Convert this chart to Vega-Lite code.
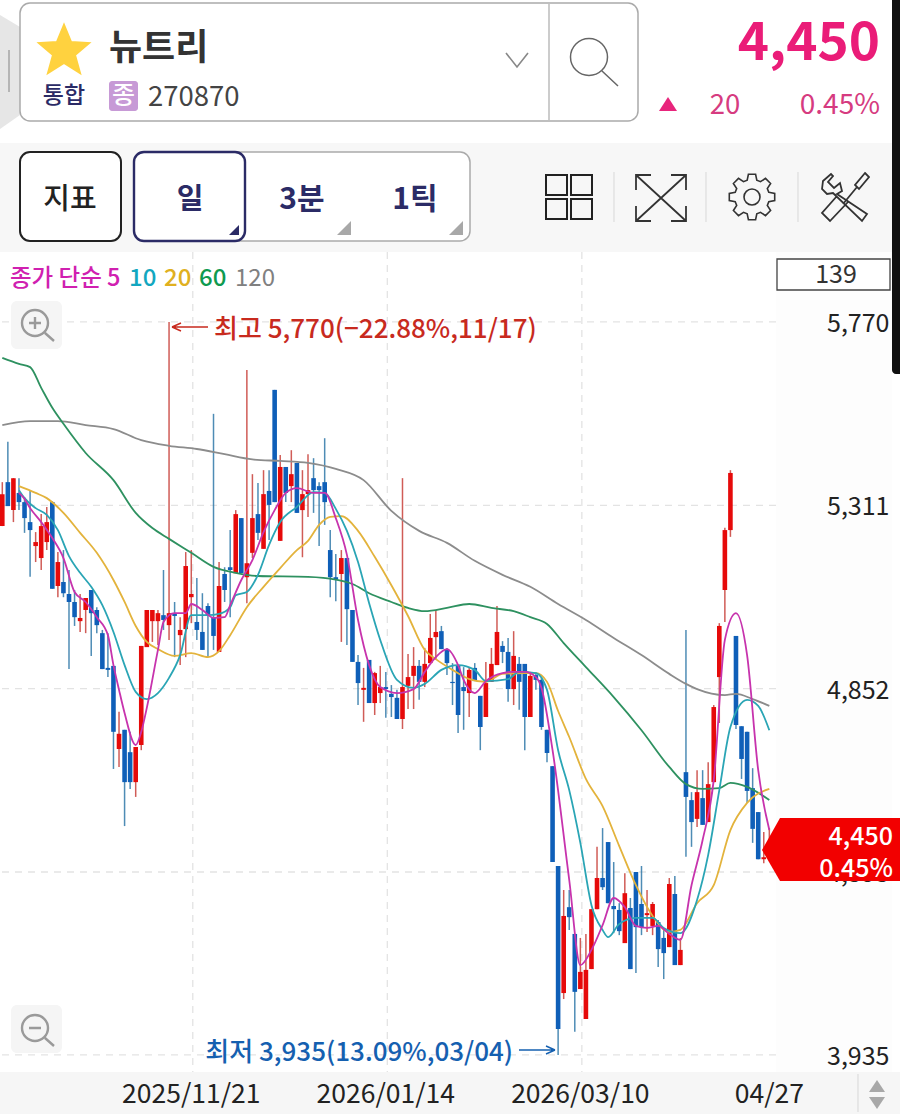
{"$schema":"https://vega.github.io/schema/vega-lite/v6.json","width":900,"height":1119,"padding":0,"autosize":{"type":"fit","contains":"padding"},"background":"#ffffff","config":{"view":{"stroke":null},"axis":{"disable":true},"scale":{"continuousPadding":0},"line":{"strokeJoin":"round"},"text":{"font":"Noto Sans CJK KR"}},
"datasets":{
"candles":[
{"i":0,"o":5259,"h":5369,"l":5259,"c":5339},{"i":1,"o":5369,"h":5470,"l":5309,"c":5309},{"i":2,"o":5299,"h":5379,"l":5269,"c":5379},{"i":3,"o":5342,"h":5379,"l":5299,"c":5319},{"i":4,"o":5319,"h":5332,"l":5242,"c":5279},{"i":5,"o":5269,"h":5347,"l":5132,"c":5249},{"i":6,"o":5209,"h":5244,"l":5169,"c":5219},{"i":7,"o":5179,"h":5289,"l":5149,"c":5259},{"i":8,"o":5219,"h":5307,"l":5199,"c":5269},{"i":9,"o":5319,"h":5321,"l":5102,"c":5102},
{"i":10,"o":5109,"h":5194,"l":5081,"c":5169},{"i":11,"o":5119,"h":5199,"l":5081,"c":5091},{"i":12,"o":5089,"h":5149,"l":4901,"c":5069},{"i":13,"o":5069,"h":5099,"l":5009,"c":5031},{"i":14,"o":5021,"h":5089,"l":4994,"c":5029},{"i":15,"o":5049,"h":5079,"l":4991,"c":5079},{"i":16,"o":5099,"h":5099,"l":4934,"c":5041},{"i":17,"o":5049,"h":5056,"l":4991,"c":5011},{"i":18,"o":4991,"h":4999,"l":4901,"c":4901},{"i":19,"o":4904,"h":4991,"l":4881,"c":4899},
{"i":20,"o":4909,"h":4909,"l":4651,"c":4744},{"i":21,"o":4701,"h":4794,"l":4656,"c":4739},{"i":22,"o":4749,"h":4749,"l":4508,"c":4618},{"i":23,"o":4693,"h":4744,"l":4601,"c":4618},{"i":24,"o":4618,"h":4706,"l":4581,"c":4706},{"i":25,"o":4711,"h":4959,"l":4698,"c":4959},{"i":26,"o":4956,"h":5049,"l":4956,"c":5049},{"i":27,"o":5021,"h":5049,"l":4969,"c":5049},{"i":28,"o":5021,"h":5049,"l":4961,"c":5041},{"i":29,"o":5036,"h":5149,"l":4999,"c":5024},
{"i":30,"o":5011,"h":5770,"l":4974,"c":5041},{"i":31,"o":5041,"h":5069,"l":4931,"c":5034},{"i":32,"o":4986,"h":5031,"l":4911,"c":4999},{"i":33,"o":5001,"h":5194,"l":4931,"c":5159},{"i":34,"o":5081,"h":5199,"l":5016,"c":5089},{"i":35,"o":5019,"h":5129,"l":4974,"c":4999},{"i":36,"o":4994,"h":5091,"l":4949,"c":4949},{"i":37,"o":5059,"h":5066,"l":4931,"c":5036},{"i":38,"o":5029,"h":5540,"l":4949,"c":4984},{"i":39,"o":4944,"h":5169,"l":4944,"c":5109},
{"i":40,"o":5139,"h":5156,"l":5069,"c":5099},{"i":41,"o":5156,"h":5249,"l":5031,"c":5149},{"i":42,"o":5141,"h":5299,"l":5141,"c":5289},{"i":43,"o":5279,"h":5279,"l":5141,"c":5141},{"i":44,"o":5131,"h":5650,"l":5066,"c":5166},{"i":45,"o":5192,"h":5389,"l":5179,"c":5279},{"i":46,"o":5289,"h":5367,"l":5224,"c":5242},{"i":47,"o":5202,"h":5399,"l":5202,"c":5339},{"i":48,"o":5347,"h":5399,"l":5224,"c":5312},{"i":49,"o":5600,"h":5600,"l":5319,"c":5319},
{"i":50,"o":5222,"h":5437,"l":5222,"c":5407},{"i":51,"o":5407,"h":5407,"l":5319,"c":5342},{"i":52,"o":5359,"h":5449,"l":5319,"c":5389},{"i":53,"o":5417,"h":5417,"l":5292,"c":5292},{"i":54,"o":5299,"h":5399,"l":5181,"c":5339},{"i":55,"o":5339,"h":5439,"l":5282,"c":5349},{"i":56,"o":5379,"h":5429,"l":5292,"c":5349},{"i":57,"o":5359,"h":5369,"l":5209,"c":5349},{"i":58,"o":5369,"h":5479,"l":5262,"c":5319},{"i":59,"o":5199,"h":5249,"l":5081,"c":5131},
{"i":60,"o":5131,"h":5189,"l":5071,"c":5126},{"i":61,"o":5139,"h":5199,"l":4969,"c":5179},{"i":62,"o":5179,"h":5179,"l":4961,"c":5051},{"i":63,"o":5049,"h":5049,"l":4919,"c":4919},{"i":64,"o":4919,"h":4936,"l":4811,"c":4866},{"i":65,"o":4849,"h":4904,"l":4769,"c":4854},{"i":66,"o":4924,"h":4924,"l":4816,"c":4816},{"i":67,"o":4816,"h":4894,"l":4786,"c":4891},{"i":68,"o":4841,"h":4909,"l":4816,"c":4856},{"i":69,"o":4856,"h":4894,"l":4779,"c":4851},
{"i":70,"o":4839,"h":4861,"l":4781,"c":4831},{"i":71,"o":4829,"h":4849,"l":4776,"c":4776},{"i":72,"o":4776,"h":5379,"l":4751,"c":4856},{"i":73,"o":4859,"h":4939,"l":4801,"c":4881},{"i":74,"o":4884,"h":4956,"l":4801,"c":4909},{"i":75,"o":4909,"h":4924,"l":4824,"c":4869},{"i":76,"o":4869,"h":4954,"l":4856,"c":4914},{"i":77,"o":4916,"h":5039,"l":4916,"c":4979},{"i":78,"o":4981,"h":5049,"l":4924,"c":4994},{"i":79,"o":4996,"h":5009,"l":4951,"c":4951},
{"i":80,"o":4949,"h":4954,"l":4886,"c":4916},{"i":81,"o":4869,"h":4916,"l":4811,"c":4866},{"i":82,"o":4909,"h":4909,"l":4741,"c":4786},{"i":83,"o":4856,"h":4906,"l":4749,"c":4846},{"i":84,"o":4841,"h":4904,"l":4781,"c":4899},{"i":85,"o":4904,"h":4916,"l":4871,"c":4871},{"i":86,"o":4834,"h":4834,"l":4698,"c":4756},{"i":87,"o":4781,"h":4919,"l":4781,"c":4866},{"i":88,"o":4869,"h":4954,"l":4869,"c":4914},{"i":89,"o":4911,"h":5059,"l":4911,"c":4994},
{"i":90,"o":4959,"h":4971,"l":4916,"c":4944},{"i":91,"o":4944,"h":4979,"l":4819,"c":4851},{"i":92,"o":4851,"h":4996,"l":4811,"c":4934},{"i":93,"o":4914,"h":4931,"l":4799,"c":4869},{"i":94,"o":4914,"h":4914,"l":4698,"c":4781},{"i":95,"o":4781,"h":4894,"l":4781,"c":4884},{"i":96,"o":4886,"h":4894,"l":4849,"c":4874},{"i":97,"o":4874,"h":4880,"l":4749,"c":4756},{"i":98,"o":4749,"h":4749,"l":4668,"c":4691},{"i":99,"o":4658,"h":4658,"l":4418,"c":4418},
{"i":100,"o":4408,"h":4408,"l":3935,"c":4000},{"i":101,"o":4090,"h":4348,"l":4075,"c":4283},{"i":102,"o":4305,"h":4348,"l":4248,"c":4280},{"i":103,"o":4238,"h":4238,"l":3993,"c":4093},{"i":104,"o":4100,"h":4228,"l":4100,"c":4143},{"i":105,"o":4025,"h":4238,"l":4025,"c":4148},{"i":106,"o":4150,"h":4300,"l":4150,"c":4300},{"i":107,"o":4300,"h":4456,"l":4300,"c":4378},{"i":108,"o":4378,"h":4503,"l":4348,"c":4355},{"i":109,"o":4468,"h":4468,"l":4315,"c":4315},
{"i":110,"o":4308,"h":4418,"l":4240,"c":4300},{"i":111,"o":4298,"h":4315,"l":4235,"c":4245},{"i":112,"o":4215,"h":4390,"l":4215,"c":4340},{"i":113,"o":4303,"h":4328,"l":4150,"c":4150},{"i":114,"o":4393,"h":4393,"l":4140,"c":4255},{"i":115,"o":4313,"h":4408,"l":4235,"c":4255},{"i":116,"o":4285,"h":4348,"l":4243,"c":4290},{"i":117,"o":4258,"h":4318,"l":4235,"c":4313},{"i":118,"o":4268,"h":4273,"l":4155,"c":4200},{"i":119,"o":4228,"h":4253,"l":4125,"c":4190},
{"i":120,"o":4205,"h":4378,"l":4205,"c":4363},{"i":121,"o":4338,"h":4383,"l":4160,"c":4160},{"i":122,"o":4160,"h":4228,"l":4160,"c":4198},{"i":123,"o":4643,"h":4999,"l":4431,"c":4581},{"i":124,"o":4573,"h":4593,"l":4456,"c":4518},{"i":125,"o":4526,"h":4648,"l":4506,"c":4593},{"i":126,"o":4578,"h":4648,"l":4511,"c":4511},{"i":127,"o":4518,"h":4668,"l":4518,"c":4613},{"i":128,"o":4618,"h":4811,"l":4618,"c":4806},{"i":129,"o":4881,"h":5016,"l":4766,"c":5009},
{"i":130,"o":5099,"h":5255,"l":5019,"c":5249},{"i":131,"o":5249,"h":5399,"l":5232,"c":5392},{"i":132,"o":4984,"h":4984,"l":4751,"c":4761},{"i":133,"o":4758,"h":4758,"l":4626,"c":4676},{"i":134,"o":4744,"h":4744,"l":4566,"c":4596},{"i":135,"o":4603,"h":4653,"l":4466,"c":4501},{"i":136,"o":4543,"h":4543,"l":4425,"c":4425},{"i":137,"o":4425,"h":4493,"l":4415,"c":4430},{"i":138,"o":4430,"h":4503,"l":4425,"c":4450}],
"ma120":[{"i":0,"p":5512},{"i":5,"p":5522},{"i":10,"p":5522},{"i":15,"p":5512},{"i":20,"p":5502},{"i":25,"p":5474},{"i":30,"p":5460},{"i":35,"p":5452},{"i":40,"p":5439},{"i":45,"p":5426},{"i":50,"p":5422},{"i":55,"p":5417},{"i":60,"p":5402},{"i":65,"p":5374},{"i":70,"p":5297},{"i":75,"p":5247},{"i":80,"p":5217},{"i":85,"p":5172},{"i":90,"p":5137},{"i":95,"p":5107},{"i":100,"p":5064},{"i":105,"p":5024},{"i":110,"p":4979},{"i":115,"p":4936},{"i":120,"p":4889},{"i":123,"p":4864},{"i":125,"p":4851},{"i":130,"p":4836},{"i":132,"p":4839},{"i":135,"p":4826},{"i":138,"p":4809}],
"ma60":[{"i":0,"p":5680},{"i":3,"p":5665},{"i":5,"p":5657},{"i":7,"p":5605},{"i":9,"p":5555},{"i":11,"p":5515},{"i":15,"p":5442},{"i":20,"p":5374},{"i":24,"p":5292},{"i":27,"p":5254},{"i":30,"p":5227},{"i":34,"p":5192},{"i":38,"p":5157},{"i":42,"p":5142},{"i":46,"p":5134},{"i":55,"p":5132},{"i":60,"p":5125},{"i":63,"p":5114},{"i":66,"p":5091},{"i":70,"p":5069},{"i":73,"p":5054},{"i":76,"p":5046},{"i":80,"p":5054},{"i":84,"p":5064},{"i":88,"p":5054},{"i":92,"p":5046},{"i":95,"p":5031},{"i":98,"p":5014},{"i":101,"p":4966},{"i":105,"p":4906},{"i":110,"p":4831},{"i":115,"p":4748},{"i":120,"p":4656},{"i":123,"p":4613},{"i":126,"p":4601},{"i":129,"p":4603},{"i":131,"p":4616},{"i":134,"p":4606},{"i":138,"p":4573}],
"ma20":[{"i":3,"p":5359},{"i":6,"p":5342},{"i":8,"p":5329},{"i":11,"p":5292},{"i":14,"p":5242},{"i":17,"p":5192},{"i":20,"p":5124},{"i":22,"p":5069},{"i":24,"p":5009},{"i":26,"p":4969},{"i":28,"p":4951},{"i":31,"p":4934},{"i":34,"p":4941},{"i":37,"p":4931},{"i":39,"p":4946},{"i":41,"p":4986},{"i":44,"p":5056},{"i":47,"p":5107},{"i":50,"p":5154},{"i":53,"p":5199},{"i":55,"p":5222},{"i":57,"p":5262},{"i":59,"p":5282},{"i":61,"p":5284},{"i":64,"p":5247},{"i":67,"p":5182},{"i":70,"p":5111},{"i":73,"p":5034},{"i":76,"p":4949},{"i":78,"p":4926},{"i":81,"p":4899},{"i":84,"p":4876},{"i":87,"p":4869},{"i":90,"p":4889},{"i":94,"p":4891},{"i":96,"p":4891},{"i":98,"p":4869},{"i":100,"p":4796},{"i":102,"p":4731},{"i":105,"p":4626},{"i":108,"p":4558},{"i":111,"p":4458},{"i":114,"p":4360},{"i":117,"p":4283},{"i":120,"p":4243},{"i":122,"p":4248},{"i":125,"p":4315},{"i":128,"p":4360},{"i":131,"p":4498},{"i":134,"p":4566},{"i":138,"p":4601}],
"ma10":[{"i":3,"p":5349},{"i":4,"p":5329},{"i":6,"p":5304},{"i":8,"p":5287},{"i":10,"p":5249},{"i":12,"p":5184},{"i":14,"p":5142},{"i":16,"p":5107},{"i":18,"p":5061},{"i":20,"p":4994},{"i":22,"p":4911},{"i":24,"p":4844},{"i":26,"p":4826},{"i":28,"p":4841},{"i":30,"p":4879},{"i":32,"p":4936},{"i":34,"p":5036},{"i":37,"p":5036},{"i":39,"p":5039},{"i":41,"p":5056},{"i":42,"p":5086},{"i":44,"p":5094},{"i":46,"p":5137},{"i":48,"p":5212},{"i":50,"p":5269},{"i":53,"p":5307},{"i":56,"p":5344},{"i":58,"p":5342},{"i":60,"p":5302},{"i":62,"p":5247},{"i":64,"p":5169},{"i":66,"p":5066},{"i":68,"p":4974},{"i":71,"p":4874},{"i":74,"p":4854},{"i":76,"p":4864},{"i":79,"p":4899},{"i":82,"p":4911},{"i":85,"p":4899},{"i":87,"p":4871},{"i":91,"p":4876},{"i":93,"p":4894},{"i":96,"p":4891},{"i":98,"p":4849},{"i":100,"p":4698},{"i":102,"p":4598},{"i":104,"p":4466},{"i":106,"p":4310},{"i":108,"p":4248},{"i":109,"p":4230},{"i":111,"p":4263},{"i":114,"p":4278},{"i":117,"p":4278},{"i":119,"p":4253},{"i":122,"p":4240},{"i":125,"p":4323},{"i":127,"p":4436},{"i":129,"p":4598},{"i":131,"p":4756},{"i":134,"p":4824},{"i":136,"p":4809},{"i":138,"p":4748}],
"ma5":[{"i":3,"p":5342},{"i":4,"p":5327},{"i":5,"p":5304},{"i":7,"p":5269},{"i":9,"p":5229},{"i":11,"p":5179},{"i":13,"p":5094},{"i":15,"p":5069},{"i":17,"p":5031},{"i":19,"p":4986},{"i":20,"p":4911},{"i":21,"p":4849},{"i":22,"p":4791},{"i":24,"p":4711},{"i":25,"p":4744},{"i":26,"p":4804},{"i":28,"p":4949},{"i":29,"p":5019},{"i":31,"p":5041},{"i":33,"p":5041},{"i":34,"p":5064},{"i":36,"p":5049},{"i":38,"p":5029},{"i":40,"p":5031},{"i":41,"p":5061},{"i":43,"p":5124},{"i":45,"p":5174},{"i":47,"p":5244},{"i":49,"p":5299},{"i":51,"p":5342},{"i":53,"p":5354},{"i":56,"p":5342},{"i":58,"p":5342},{"i":60,"p":5279},{"i":62,"p":5187},{"i":64,"p":5024},{"i":66,"p":4911},{"i":68,"p":4856},{"i":71,"p":4841},{"i":74,"p":4851},{"i":76,"p":4894},{"i":78,"p":4931},{"i":80,"p":4951},{"i":82,"p":4911},{"i":83,"p":4874},{"i":85,"p":4841},{"i":87,"p":4871},{"i":90,"p":4891},{"i":92,"p":4894},{"i":94,"p":4894},{"i":96,"p":4881},{"i":97,"p":4854},{"i":99,"p":4698},{"i":102,"p":4373},{"i":104,"p":4160},{"i":106,"p":4198},{"i":108,"p":4260},{"i":110,"p":4328},{"i":112,"p":4305},{"i":114,"p":4258},{"i":116,"p":4253},{"i":118,"p":4258},{"i":120,"p":4238},{"i":122,"p":4223},{"i":124,"p":4360},{"i":126,"p":4473},{"i":128,"p":4623},{"i":130,"p":4974},{"i":132,"p":5041},{"i":134,"p":4936},{"i":136,"p":4648},{"i":138,"p":4498}],
"prices":[{"p":5770},{"p":5311},{"p":4852},{"p":4393},{"p":3935}],
"dates":[{"i":34,"d":"2025/11/21"},{"i":69,"d":"2026/01/14"},{"i":104,"d":"2026/03/10"},{"i":138,"d":"04/27"}]
},
"layer":[
{"data":{"values":[{}]},"mark":{"type":"rect","fill":"#f7f7f7"},"encoding":{"x":{"value":0},"x2":{"value":900},"y":{"value":143},"y2":{"value":252}}},
{"data":{"values":[{}]},"mark":{"type":"rect","fill":"#f6f6f6"},"encoding":{"x":{"value":0},"x2":{"value":900},"y":{"value":1072},"y2":{"value":1114}}},
{"data":{"values":[{}]},"mark":{"type":"rect","fill":"#fdfdfd"},"encoding":{"x":{"value":776},"x2":{"value":892},"y":{"value":252},"y2":{"value":1072}}},
{"data":{"name":"dates"},"transform":[{"filter":"datum.i<138"}],"mark":{"type":"rule","stroke":"#e3e3e3","strokeWidth":1.3,"strokeDash":[7,6],"xOffset":1.5},"encoding":{"x":{"field":"i","type":"quantitative","scale":{"domain":[-0.414,161.51],"nice":false,"zero":false}},"y":{"value":252},"y2":{"value":1072}}},
{"data":{"name":"prices"},"mark":{"type":"rule","stroke":"#e3e3e3","strokeWidth":1.3,"strokeDash":[7,6]},"encoding":{"y":{"field":"p","type":"quantitative","scale":{"domain":[3774.7,6576],"nice":false,"zero":false}},"x":{"value":2},"x2":{"value":776}}},
{"data":{"name":"candles"},"mark":{"type":"rule","strokeWidth":1.5,"opacity":0.85},"encoding":{"x":{"field":"i","type":"quantitative","scale":{"domain":[-0.414,161.51],"nice":false,"zero":false}},"y":{"field":"h","type":"quantitative","scale":{"domain":[3774.7,6576],"nice":false,"zero":false}},"y2":{"field":"l"},"color":{"condition":{"test":"datum.c >= datum.o","value":"#c8403a"},"value":"#2f78a8"}}},
{"data":{"name":"candles"},"mark":{"type":"bar","size":4.6},"encoding":{"x":{"field":"i","type":"quantitative","scale":{"domain":[-0.414,161.51],"nice":false,"zero":false,"padding":0}},"y":{"field":"o","type":"quantitative","scale":{"domain":[3774.7,6576],"nice":false,"zero":false}},"y2":{"field":"c"},"color":{"condition":{"test":"datum.c >= datum.o","value":"#e60a0a"},"value":"#0f5fb8"}}},
{"data":{"name":"ma120"},"mark":{"type":"line","stroke":"#8c8c8c","strokeWidth":1.8,"strokeJoin":"round","interpolate":"monotone"},"encoding":{"x":{"field":"i","type":"quantitative","scale":{"domain":[-0.414,161.51],"nice":false,"zero":false}},"y":{"field":"p","type":"quantitative","scale":{"domain":[3774.7,6576],"nice":false,"zero":false}}}},
{"data":{"name":"ma60"},"mark":{"type":"line","stroke":"#2e9160","strokeWidth":1.8,"strokeJoin":"round","interpolate":"monotone"},"encoding":{"x":{"field":"i","type":"quantitative","scale":{"domain":[-0.414,161.51],"nice":false,"zero":false}},"y":{"field":"p","type":"quantitative","scale":{"domain":[3774.7,6576],"nice":false,"zero":false}}}},
{"data":{"name":"ma20"},"mark":{"type":"line","stroke":"#e3b33c","strokeWidth":1.8,"strokeJoin":"round","interpolate":"monotone"},"encoding":{"x":{"field":"i","type":"quantitative","scale":{"domain":[-0.414,161.51],"nice":false,"zero":false}},"y":{"field":"p","type":"quantitative","scale":{"domain":[3774.7,6576],"nice":false,"zero":false}}}},
{"data":{"name":"ma10"},"mark":{"type":"line","stroke":"#2aa5b5","strokeWidth":1.8,"strokeJoin":"round","interpolate":"monotone"},"encoding":{"x":{"field":"i","type":"quantitative","scale":{"domain":[-0.414,161.51],"nice":false,"zero":false}},"y":{"field":"p","type":"quantitative","scale":{"domain":[3774.7,6576],"nice":false,"zero":false}}}},
{"data":{"name":"ma5"},"mark":{"type":"line","stroke":"#c733ad","strokeWidth":1.8,"strokeJoin":"round","interpolate":"monotone"},"encoding":{"x":{"field":"i","type":"quantitative","scale":{"domain":[-0.414,161.51],"nice":false,"zero":false}},"y":{"field":"p","type":"quantitative","scale":{"domain":[3774.7,6576],"nice":false,"zero":false}}}},
{"data":{"name":"prices"},"mark":{"type":"text","align":"left","baseline":"middle","fontSize":25,"fill":"#222222","dy":2},"encoding":{"x":{"value":827},"y":{"field":"p","type":"quantitative","scale":{"domain":[3774.7,6576],"nice":false,"zero":false}},"text":{"field":"p","type":"quantitative","format":","}}},
{"data":{"name":"dates"},"mark":{"type":"text","align":"center","baseline":"middle","fontSize":26.5,"fill":"#222222"},"encoding":{"x":{"field":"i","type":"quantitative","scale":{"domain":[-0.414,161.51],"nice":false,"zero":false}},"y":{"value":1095},"text":{"field":"d"}}},
{"data":{"values":[{"i":30,"p":5770,"t":"최고 5,770(−22.88%,11/17)"}]},"mark":{"type":"text","align":"left","baseline":"middle","fontSize":26,"fontWeight":500,"fill":"#c82a1e","dx":45,"dy":8},"encoding":{"x":{"field":"i","type":"quantitative","scale":{"domain":[-0.414,161.51],"nice":false,"zero":false}},"y":{"field":"p","type":"quantitative","scale":{"domain":[3774.7,6576],"nice":false,"zero":false}},"text":{"field":"t"}}},
{"data":{"values":[{"i":100,"p":3935,"t":"최저 3,935(13.09%,03/04)"}]},"mark":{"type":"text","align":"right","baseline":"middle","fontSize":26,"fontWeight":500,"fill":"#1560b0","dx":-45,"dy":-2},"encoding":{"x":{"field":"i","type":"quantitative","scale":{"domain":[-0.414,161.51],"nice":false,"zero":false}},"y":{"field":"p","type":"quantitative","scale":{"domain":[3774.7,6576],"nice":false,"zero":false}},"text":{"field":"t"}}},
{"data":{"values":[{}]},"mark":{"type":"point","size":4,"filled":false,"stroke":"#c82a1e","strokeWidth":1.4,"opacity":1,"shape":"M-18,0H18M-18,0L-9,-4M-18,0L-9,4"},"encoding":{"x":{"value":190},"y":{"value":327}}},
{"data":{"values":[{}]},"mark":{"type":"point","size":4,"filled":false,"stroke":"#1560b0","strokeWidth":1.4,"opacity":1,"shape":"M-18,0H18M18,0L9,-4M18,0L9,4"},"encoding":{"x":{"value":537},"y":{"value":1050}}},
{"data":{"values":[{}]},"mark":{"type":"point","size":4,"filled":true,"fill":"#f20000","strokeWidth":0,"opacity":1,"shape":"M-68,0L-50,-32H70V31H-50Z"},"encoding":{"x":{"value":830},"y":{"value":850}}},
{"data":{"values":[{"t":"4,450"}]},"mark":{"type":"text","align":"right","baseline":"middle","fontSize":25,"fontWeight":500,"fill":"#ffffff"},"encoding":{"x":{"value":893},"y":{"value":837},"text":{"field":"t"}}},
{"data":{"values":[{"t":"0.45%"}]},"mark":{"type":"text","align":"right","baseline":"middle","fontSize":25,"fontWeight":500,"fill":"#ffffff"},"encoding":{"x":{"value":893},"y":{"value":869},"text":{"field":"t"}}},
{"data":{"values":[{}]},"mark":{"type":"rect","fill":"#111111","cornerRadiusBottomLeft":5},"encoding":{"x":{"value":892},"x2":{"value":900},"y":{"value":0},"y2":{"value":374}}},
{"data":{"values":[{}]},"mark":{"type":"point","size":4,"filled":true,"fill":"#e6e6e6","strokeWidth":0,"opacity":1,"shape":"M-20,-50L0,-38V50L-20,64Z"},"encoding":{"x":{"value":20},"y":{"value":65}}},
{"data":{"values":[{}]},"mark":{"type":"rule","stroke":"#b5b5b5","strokeWidth":2},"encoding":{"x":{"value":9},"y":{"value":50},"y2":{"value":92}}},
{"data":{"values":[{}]},"mark":{"type":"rect","fill":"#ffffff","stroke":"#aaaaaa","strokeWidth":1.5,"cornerRadius":10},"encoding":{"x":{"value":20},"x2":{"value":638},"y":{"value":3},"y2":{"value":121}}},
{"data":{"values":[{}]},"mark":{"type":"rule","stroke":"#aaaaaa","strokeWidth":1.2},"encoding":{"x":{"value":549},"y":{"value":4},"y2":{"value":120}}},
{"data":{"values":[{}]},"mark":{"type":"point","size":4,"filled":true,"fill":"#ffd23f","stroke":"#ffd23f","opacity":1,"shape":"M0,-25L7,-8L25,-7L11,5L16,23L0,13L-16,23L-11,5L-25,-7L-7,-8Z"},"encoding":{"x":{"value":64},"y":{"value":50}}},
{"data":{"values":[{"t":"뉴트리"}]},"mark":{"type":"text","align":"left","baseline":"middle","fontSize":36,"fontWeight":"bold","fill":"#333333"},"encoding":{"x":{"value":109},"y":{"value":49},"text":{"field":"t"}}},
{"data":{"values":[{"t":"통합"}]},"mark":{"type":"text","align":"center","baseline":"middle","fontSize":23,"fontWeight":500,"fill":"#2b2b66"},"encoding":{"x":{"value":64},"y":{"value":96},"text":{"field":"t"}}},
{"data":{"values":[{}]},"mark":{"type":"rect","fill":"#c79ad6","cornerRadius":3},"encoding":{"x":{"value":109},"x2":{"value":138},"y":{"value":81},"y2":{"value":111}}},
{"data":{"values":[{"t":"종"}]},"mark":{"type":"text","align":"center","baseline":"middle","fontSize":25,"fontWeight":500,"fill":"#ffffff"},"encoding":{"x":{"value":123.5},"y":{"value":96},"text":{"field":"t"}}},
{"data":{"values":[{"t":"270870"}]},"mark":{"type":"text","align":"left","baseline":"middle","fontSize":27.5,"fill":"#444444"},"encoding":{"x":{"value":148},"y":{"value":98},"text":{"field":"t"}}},
{"data":{"values":[{}]},"mark":{"type":"point","size":4,"filled":false,"stroke":"#888888","strokeWidth":1.6,"opacity":1,"shape":"M-11,-7L0,7L11,-7"},"encoding":{"x":{"value":517},"y":{"value":60}}},
{"data":{"values":[{}]},"mark":{"type":"point","size":4,"filled":false,"stroke":"#666666","strokeWidth":1.5,"opacity":1,"shape":"M18.5,0A18.5,18.5,0,1,1,-18.5,0A18.5,18.5,0,1,1,18.5,0M13,14L29,29"},"encoding":{"x":{"value":589},"y":{"value":57}}},
{"data":{"values":[{"t":"4,450"}]},"mark":{"type":"text","align":"right","baseline":"middle","fontSize":53,"fontWeight":"bold","fill":"#ea1c78"},"encoding":{"x":{"value":880},"y":{"value":44},"text":{"field":"t"}}},
{"data":{"values":[{}]},"mark":{"type":"point","size":4,"filled":true,"fill":"#e8257c","strokeWidth":0,"opacity":1,"shape":"M-9,7L0,-7L9,7Z"},"encoding":{"x":{"value":668},"y":{"value":104}}},
{"data":{"values":[{"t":"20"}]},"mark":{"type":"text","align":"center","baseline":"middle","fontSize":27.5,"fill":"#d63b80"},"encoding":{"x":{"value":725},"y":{"value":106},"text":{"field":"t"}}},
{"data":{"values":[{"t":"0.45%"}]},"mark":{"type":"text","align":"right","baseline":"middle","fontSize":28,"fill":"#d63b80"},"encoding":{"x":{"value":880},"y":{"value":106},"text":{"field":"t"}}},
{"data":{"values":[{}]},"mark":{"type":"rect","fill":"#ffffff","stroke":"#222222","strokeWidth":2,"cornerRadius":10},"encoding":{"x":{"value":20},"x2":{"value":121},"y":{"value":152},"y2":{"value":241}}},
{"data":{"values":[{"t":"지표"}]},"mark":{"type":"text","align":"center","baseline":"middle","fontSize":29,"fontWeight":500,"fill":"#222222"},"encoding":{"x":{"value":70},"y":{"value":200},"text":{"field":"t"}}},
{"data":{"values":[{}]},"mark":{"type":"rect","fill":"#ffffff","stroke":"#aaaaaa","strokeWidth":1.5,"cornerRadius":10},"encoding":{"x":{"value":134},"x2":{"value":470},"y":{"value":152},"y2":{"value":241}}},
{"data":{"values":[{}]},"mark":{"type":"rect","fill":"#ffffff","stroke":"#2b2b66","strokeWidth":2.4,"cornerRadius":10},"encoding":{"x":{"value":134},"x2":{"value":245},"y":{"value":152},"y2":{"value":241}}},
{"data":{"values":[{"t":"일"}]},"mark":{"type":"text","align":"center","baseline":"middle","fontSize":29,"fontWeight":"bold","fill":"#2b2b66"},"encoding":{"x":{"value":190},"y":{"value":200},"text":{"field":"t"}}},
{"data":{"values":[{"t":"3분"}]},"mark":{"type":"text","align":"center","baseline":"middle","fontSize":30,"fontWeight":"bold","fill":"#2b2b66"},"encoding":{"x":{"value":302},"y":{"value":200},"text":{"field":"t"}}},
{"data":{"values":[{"t":"1틱"}]},"mark":{"type":"text","align":"center","baseline":"middle","fontSize":30,"fontWeight":"bold","fill":"#2b2b66"},"encoding":{"x":{"value":415},"y":{"value":200},"text":{"field":"t"}}},
{"data":{"values":[{}]},"mark":{"type":"point","size":4,"filled":true,"fill":"#2b2b66","strokeWidth":0,"opacity":1,"shape":"M-5,5L5,-5V5Z"},"encoding":{"x":{"value":234},"y":{"value":230}}},
{"data":{"values":[{}]},"mark":{"type":"point","size":4,"filled":true,"fill":"#a8a8a8","strokeWidth":0,"opacity":1,"shape":"M-7,7L7,-7V7Z"},"encoding":{"x":{"value":344},"y":{"value":228}}},
{"data":{"values":[{}]},"mark":{"type":"point","size":4,"filled":true,"fill":"#a8a8a8","strokeWidth":0,"opacity":1,"shape":"M-7,7L7,-7V7Z"},"encoding":{"x":{"value":456},"y":{"value":228}}},
{"data":{"values":[{}]},"mark":{"type":"point","size":4,"filled":false,"stroke":"#222222","strokeWidth":2,"opacity":1,"shape":"M-23,-22H-2V-2H-23ZM2,-22H23V-2H2ZM-23,2H-2V22H-23ZM2,2H23V22H2Z"},"encoding":{"x":{"value":569},"y":{"value":197}}},
{"data":{"values":[{}]},"mark":{"type":"rule","stroke":"#dddddd","strokeWidth":1.2},"encoding":{"x":{"value":614},"y":{"value":172},"y2":{"value":222}}},
{"data":{"values":[{}]},"mark":{"type":"rule","stroke":"#dddddd","strokeWidth":1.2},"encoding":{"x":{"value":706},"y":{"value":172},"y2":{"value":222}}},
{"data":{"values":[{}]},"mark":{"type":"rule","stroke":"#dddddd","strokeWidth":1.2},"encoding":{"x":{"value":798},"y":{"value":172},"y2":{"value":222}}},
{"data":{"values":[{}]},"mark":{"type":"point","size":4,"filled":false,"stroke":"#333333","strokeWidth":1.8,"opacity":1,"shape":"M-25,-23L25,23M25,-23L-25,23M-25,-8L-25,-23L-10,-23M10,-23L25,-23L25,-8M25,8L25,23L10,23M-10,23L-25,23L-25,8"},"encoding":{"x":{"value":661},"y":{"value":198}}},
{"data":{"values":[{}]},"mark":{"type":"point","size":4,"filled":false,"stroke":"#333333","strokeWidth":1.6,"opacity":1,"shape":"M16.8,-4.8L22.7,-3.6L22.7,3.6L16.8,4.8L15.3,8.5L18.6,13.5L13.5,18.6L8.5,15.3L4.8,16.8L3.6,22.7L-3.6,22.7L-4.8,16.8L-8.5,15.3L-13.5,18.6L-18.6,13.5L-15.3,8.5L-16.8,4.8L-22.7,3.6L-22.7,-3.6L-16.8,-4.8L-15.3,-8.5L-18.6,-13.5L-13.5,-18.6L-8.5,-15.3L-4.8,-16.8L-3.6,-22.7L3.6,-22.7L4.8,-16.8L8.5,-15.3L13.5,-18.6L18.6,-13.5L15.3,-8.5ZM8,0A8,8,0,1,1,-8,0A8,8,0,1,1,8,0"},"encoding":{"x":{"value":752},"y":{"value":197}}},
{"data":{"values":[{}]},"mark":{"type":"point","size":4,"filled":false,"stroke":"#333333","strokeWidth":1.8,"opacity":1,"shape":"M-23,-8L-22,-16L-14,-23L-12,-21L-17,-15L-11,-9L-5,-14L-3,-6L-8,-3L22,17L17,24L-12,-4L-18,-3ZM20,-24L24,-20L14,-8L10,-12ZM12,-10L-2,7M-8,-1L-23,16L-15,24L3,5"},"encoding":{"x":{"value":845},"y":{"value":197}}},
{"data":{"values":[{"t":"종가 단순 5"}]},"mark":{"type":"text","align":"left","baseline":"middle","fontSize":23.5,"fontWeight":500,"fill":"#d020b0"},"encoding":{"x":{"value":10},"y":{"value":279},"text":{"field":"t"}}},
{"data":{"values":[{"t":"10"}]},"mark":{"type":"text","align":"left","baseline":"middle","fontSize":24,"fontWeight":500,"fill":"#12a7c0"},"encoding":{"x":{"value":129},"y":{"value":279},"text":{"field":"t"}}},
{"data":{"values":[{"t":"20"}]},"mark":{"type":"text","align":"left","baseline":"middle","fontSize":24,"fontWeight":500,"fill":"#e0b020"},"encoding":{"x":{"value":164},"y":{"value":279},"text":{"field":"t"}}},
{"data":{"values":[{"t":"60"}]},"mark":{"type":"text","align":"left","baseline":"middle","fontSize":24,"fontWeight":500,"fill":"#0e9a50"},"encoding":{"x":{"value":199},"y":{"value":279},"text":{"field":"t"}}},
{"data":{"values":[{"t":"120"}]},"mark":{"type":"text","align":"left","baseline":"middle","fontSize":24,"fill":"#808080"},"encoding":{"x":{"value":235},"y":{"value":279},"text":{"field":"t"}}},
{"data":{"values":[{}]},"mark":{"type":"rect","fill":"#ffffff","stroke":"#444444","strokeWidth":1.3},"encoding":{"x":{"value":777},"x2":{"value":890},"y":{"value":259},"y2":{"value":290}}},
{"data":{"values":[{"t":"139"}]},"mark":{"type":"text","align":"center","baseline":"middle","fontSize":25,"fill":"#333333"},"encoding":{"x":{"value":836},"y":{"value":275},"text":{"field":"t"}}},
{"data":{"values":[{}]},"mark":{"type":"rect","fill":"#f5f5f5","cornerRadius":6},"encoding":{"x":{"value":11},"x2":{"value":62},"y":{"value":301},"y2":{"value":349}}},
{"data":{"values":[{}]},"mark":{"type":"point","size":4,"filled":false,"stroke":"#9a9a9a","strokeWidth":2.4,"opacity":1,"shape":"M13,0A13,13,0,1,1,-13,0A13,13,0,1,1,13,0M10,10L19,18M-6,0H6M0,-6V6"},"encoding":{"x":{"value":35},"y":{"value":323}}},
{"data":{"values":[{}]},"mark":{"type":"rect","fill":"#f5f5f5","cornerRadius":6},"encoding":{"x":{"value":11},"x2":{"value":62},"y":{"value":1005},"y2":{"value":1053}}},
{"data":{"values":[{}]},"mark":{"type":"point","size":4,"filled":false,"stroke":"#9a9a9a","strokeWidth":2.4,"opacity":1,"shape":"M13,0A13,13,0,1,1,-13,0A13,13,0,1,1,13,0M10,10L19,18M-6,0H6"},"encoding":{"x":{"value":35},"y":{"value":1028}}},
{"data":{"values":[{}]},"mark":{"type":"rule","stroke":"#dddddd","strokeWidth":1.2},"encoding":{"x":{"value":858},"y":{"value":1074},"y2":{"value":1112}}},
{"data":{"values":[{}]},"mark":{"type":"point","size":4,"filled":true,"fill":"#a8a8a8","strokeWidth":0,"opacity":1,"shape":"M-8,6L0,-6L8,6Z"},"encoding":{"x":{"value":877},"y":{"value":1086}}},
{"data":{"values":[{}]},"mark":{"type":"point","size":4,"filled":true,"fill":"#a8a8a8","strokeWidth":0,"opacity":1,"shape":"M-8,-6L0,6L8,-6Z"},"encoding":{"x":{"value":877},"y":{"value":1103}}}
]}
